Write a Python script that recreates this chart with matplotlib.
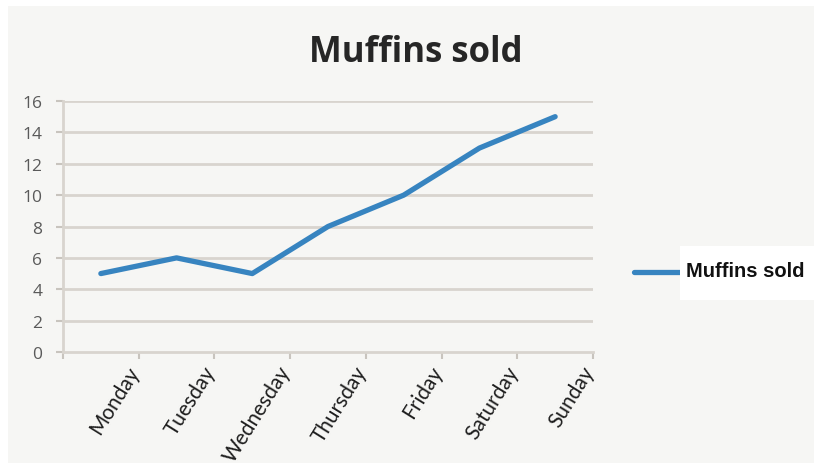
import matplotlib.pyplot as plt
from matplotlib.patches import Rectangle
from matplotlib.lines import Line2D

days = ['Monday', 'Tuesday', 'Wednesday', 'Thursday', 'Friday', 'Saturday', 'Sunday']
muffins = [5, 6, 5, 8, 10, 13, 15]
series_name = 'Muffins sold'

W, H = 814, 464
fig = plt.figure(figsize=(W / 100, H / 100), dpi=100, facecolor='white')

# chart area background (white margin at top and left)
bg = '#f6f6f4'
fig.patches.append(Rectangle((8 / W, 0), 1, 1 - 7 / H, transform=fig.transFigure,
                             facecolor=bg, edgecolor='none', zorder=-10))

ax = fig.add_axes([63 / W, (H - 353) / H, (593 - 63) / W, (353 - 102) / H])
ax.set_facecolor(bg)

x = list(range(len(days)))
line_col = '#3784c0'
ax.plot(x, muffins, color=line_col, lw=3.8, solid_capstyle='round',
        solid_joinstyle='round', zorder=3)

ax.set_xlim(-0.5, len(days) - 0.5)
ax.set_ylim(0, 16)
ax.set_yticks(range(0, 17, 2))
grid_col = '#d8d4ce'
for yv in range(2, 17, 2):
    ax.axhline(yv, color=grid_col, lw=2, zorder=1)

for s in ['top', 'right']:
    ax.spines[s].set_visible(False)
for s in ['left', 'bottom']:
    ax.spines[s].set_color(grid_col)
    ax.spines[s].set_linewidth(2)

ax.set_xticks([i - 0.5 for i in range(len(days) + 1)])
ax.set_xticklabels([])
ax.tick_params(axis='x', length=5, width=1.5, color='#c8c4be', direction='out')
ax.tick_params(axis='y', length=5, width=1.5, color='#c8c4be', direction='out',
               labelsize=12.5, labelcolor='#5a5a5a', pad=10)
for t in ax.get_yticklabels():
    t.set_fontfamily('Open Sans')

# rotated day labels, right end anchored at the tick after each category
for i, d in enumerate(days):
    ax.text(i + 0.45, -1.0, d, rotation=58, rotation_mode='anchor', ha='right',
            va='center', fontsize=15, color='#1e1e1e', family='Lato',
            transform=ax.transData, clip_on=False)

fig.text(416 / W, 1 - 53 / H, 'Muffins sold', ha='center', va='center',
         fontsize=25, fontweight='bold', family='Open Sans', color='#262626')

# legend
fig.patches.append(Rectangle((680 / W, 1 - 301 / H), (W - 680) / W, 54 / H,
                             transform=fig.transFigure, facecolor='white',
                             edgecolor='none', zorder=2))
fig.lines.append(Line2D([634 / W, 680 / W], [1 - 273 / H, 1 - 273 / H],
                        transform=fig.transFigure, color=line_col, lw=3.8,
                        solid_capstyle='round'))
fig.text(686 / W, 1 - 272 / H, series_name, ha='left', va='center', fontsize=14.5,
         fontweight='bold', family='Liberation Sans', color='#111111')

fig.savefig('out.png', dpi=100, facecolor='white')
